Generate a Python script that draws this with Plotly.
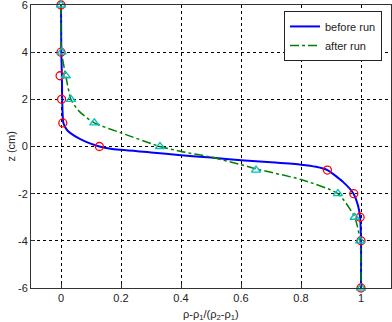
import plotly.graph_objects as go

# marker data (z in cm)
z_markers = [6, 4, 3, 2, 1, 0, -1, -2, -3, -4, -6]
before_markers = [0.0, 0.0, -0.003, 0.002, 0.006, 0.128, 0.888, 0.976, 0.997, 1.0, 1.0]
after_markers = [0.0, 0.002, 0.016, 0.033, 0.111, 0.33, 0.65, 0.923, 0.979, 0.997, 1.0]

# fitted curves
before_curve_x = [0.0, 0.001, 0.003, 0.004, 0.008, 0.02, 0.045, 0.08, 0.128, 0.166, 0.3, 0.4, 0.5, 0.6, 0.7, 0.8, 0.85, 0.888, 0.94, 0.975, 0.99, 0.997, 1.0, 1.0]
before_curve_z = [6, 4, 3, 2, 1, 0.7, 0.45, 0.22, 0.0, -0.1, -0.25, -0.37, -0.47, -0.58, -0.67, -0.77, -0.86, -1.0, -1.5, -2.0, -2.5, -3.0, -4.0, -6.0]
after_curve_x = [0.0, 0.002, 0.016, 0.033, 0.06, 0.111, 0.2, 0.33, 0.4, 0.5, 0.6, 0.65, 0.8, 0.923, 0.979, 0.997, 1.0]
after_curve_z = [6, 4, 3, 2, 1.5, 1.0, 0.58, 0.0, -0.21, -0.45, -0.77, -0.95, -1.4, -2.0, -3.0, -4.0, -6.0]

xticks = [0, 0.2, 0.4, 0.6, 0.8, 1]
xtick_labels = ["0", "0.2", "0.4", "0.6", "0.8", "1"]
yticks = [-6, -4, -2, 0, 2, 4, 6]
ytick_labels = ["-6", "-4", "-2", "0", "2", "4", "6"]

FONT = "Liberation Sans, Arial"

fig = go.Figure()
fig.add_trace(go.Scatter(x=before_curve_x, y=before_curve_z, mode="lines", name="before run",
                         line=dict(color="#0000FF", width=2, shape="spline", smoothing=0.6)))
fig.add_trace(go.Scatter(x=after_curve_x, y=after_curve_z, mode="lines", name="after run",
                         line=dict(color="#008000", width=1.5, dash="dashdot", shape="spline", smoothing=0.6)))
fig.add_trace(go.Scatter(x=before_markers, y=z_markers, mode="markers", showlegend=False,
                         marker=dict(symbol="circle-open", size=8, color="#FF0000", line=dict(width=1.3)),
                         cliponaxis=False))
fig.add_trace(go.Scatter(x=after_markers, y=z_markers, mode="markers", showlegend=False,
                         marker=dict(symbol="triangle-up-open", size=8, color="#00BFBF", line=dict(width=1.3)),
                         cliponaxis=False))

axis_common = dict(showgrid=True, gridcolor="#000000", griddash="dot", gridwidth=1,
                   showline=True, linecolor="#333333", linewidth=1, mirror=True,
                   ticks="inside", ticklen=4, tickcolor="#333333", zeroline=False,
                   automargin=False, ticklabeloverflow="allow",
                   tickfont=dict(family=FONT, size=11, color="#222222"))

fig.update_xaxes(range=[-0.1, 1.1], tickvals=xticks, ticktext=xtick_labels, **axis_common)
fig.update_yaxes(range=[-6, 6], tickvals=yticks, ticktext=ytick_labels, **axis_common)

fig.add_annotation(text="ρ-ρ<sub>1</sub>/(ρ<sub>2</sub>-ρ<sub>1</sub>)", xref="paper", yref="paper",
                   x=0.5, y=-0.062, xanchor="center", yanchor="top", showarrow=False,
                   font=dict(family=FONT, size=11, color="#222222"))
fig.add_annotation(text="z (cm)", xref="paper", yref="paper", textangle=-90,
                   x=-0.058, y=0.5, xanchor="center", yanchor="middle", showarrow=False,
                   font=dict(family=FONT, size=11, color="#222222"))

fig.update_layout(
    width=392, height=322,
    margin=dict(l=31, r=1, t=5, b=34, autoexpand=False),
    plot_bgcolor="white", paper_bgcolor="white",
    legend=dict(x=0.975, y=0.979, xanchor="right", yanchor="top",
                bgcolor="white", bordercolor="#222222", borderwidth=1,
                font=dict(family=FONT, size=11, color="#222222"),
                tracegroupgap=0, itemwidth=30),
)

fig.write_html("out.html", config={"displayModeBar": False},
               post_script="document.body.style.margin='0';document.body.style.padding='0';"
                           "document.documentElement.style.overflow='hidden';")
